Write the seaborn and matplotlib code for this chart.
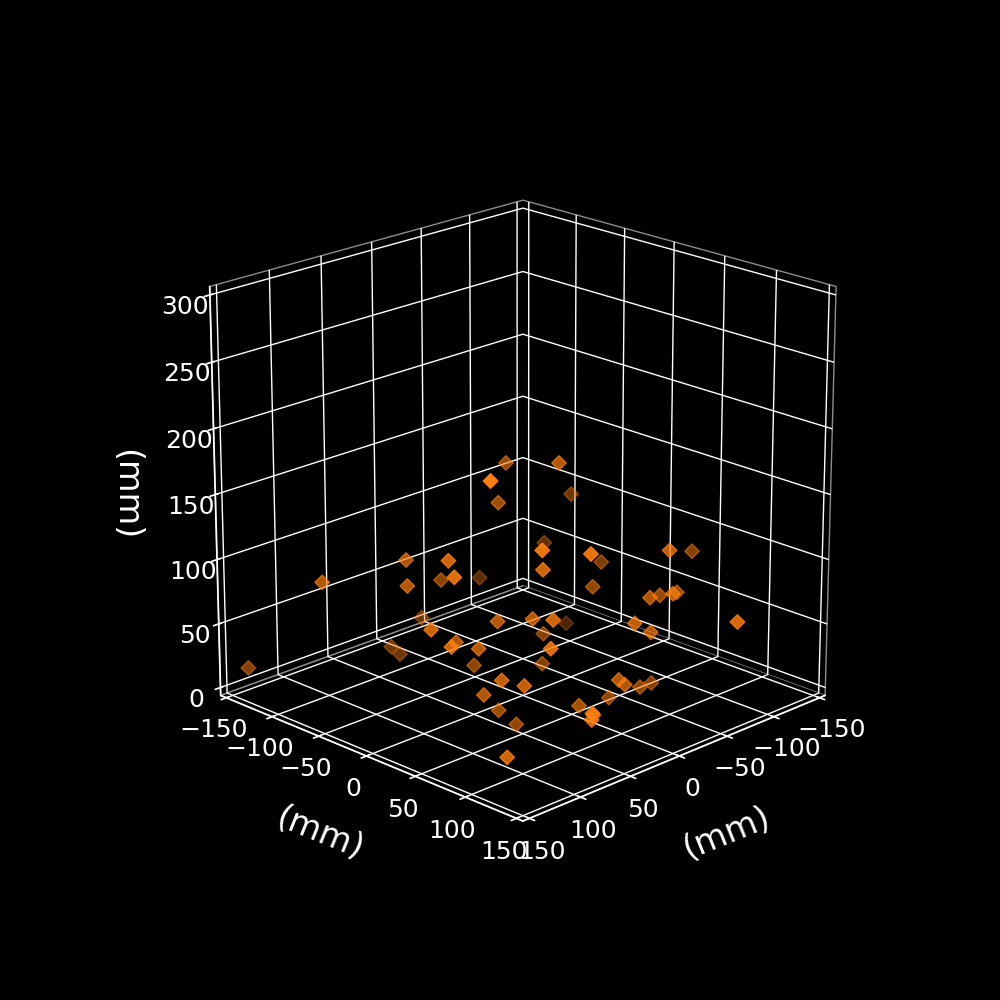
#!/usr/bin/env python3

import seaborn as sns
import matplotlib
matplotlib.use('Agg')
import matplotlib.pyplot as plt


# Point positions in mm
x_mm = [100.7, 4.1, 76.2, 88.1, 101.9, 25.3, -45.1, 83.9, 126.9, 10.6,
        105.3, 46.8, 34.9, 30.4, 67.8, 103.5, 64.8, 25.2, 133.7, -16.8,
        -9.7, -84.7, -79.3, 67.0, 43.1, -74.7, 41.0, -44.4, -39.6, -112.9,
        -38.8, -70.1, -41.6, -78.9, -38.4, -13.7, -30.6, 29.1, 44.4, -99.5,
        -27.6, 62.7, -18.5, 70.1, 58.8, 62.3, 37.9, 20.4, 92.8, 5.5,
        -35.7, -5.9, -9.0, -51.7, -75.1, 41.9, 42.2, 41.4]
y_mm = [69.3, -21.1, -42.2, 13.9, 34.1, -59.3, -90.9, -32.9, -75.9, -95.6,
        13.7, 21.2, -102.9, -98.4, 0.2, 32.5, 20.2, -25.2, -150.7, -34.2,
        26.7, -34.3, -56.7, 86.0, 109.9, 6.7, 61.0, 27.4, 107.6, 61.9,
        89.8, 70.1, 109.6, 78.9, 174.4, 98.7, 98.6, 38.9, 74.6, -53.5,
        -6.4, 90.3, 1.5, 48.9, 60.2, 22.7, 13.1, 13.6, 77.2, 62.5,
        52.7, 90.9, 94.0, 68.7, 58.1, 111.1, 110.8, 111.6]
z_mm = [203.7, 139.4, 108.9, 126.7, 123.5, 74.9, 48.8, 93.6, 96.4, 31.0,
        79.2, 71.1, 12.6, 6.8, 55.1, 71.0, 55.0, 17.5, 10.5, 161.3,
        178.4, 119.8, 76.8, 148.2, 145.5, 79.8, 119.9, 74.3, 125.4, 92.8,
        84.6, 72.3, 92.4, 74.7, 89.9, 74.5, 62.8, 73.0, 86.6, 7.3,
        32.7, 74.6, 13.9, 40.6, 36.3, 19.3, -2.8, -18.9, -3.0, 5.9,
        -3.0, 30.9, 27.3, 5.4, -1.4, 25.5, 20.4, 24.2]

horizontal_ticks = [-150, -100, -50, 0, 50, 100, 150]
height_ticks = [0, 50, 100, 150, 200, 250, 300]


sns.set_theme(style='dark', rc={'figure.facecolor': 'black', 'axes.facecolor': 'black', 'savefig.facecolor': 'black',
                                'text.color': 'white', 'axes.labelcolor': 'white', 'xtick.color': 'white',
                                'ytick.color': 'white', 'axes.edgecolor': 'white', 'grid.color': 'white'})
plt.rcParams['font.family'] = ['DejaVu Sans']

fig = plt.figure(figsize=(10, 10), dpi=100)
ax = fig.add_subplot(projection='3d')

ax.scatter(x_mm, y_mm, z_mm, marker='D', s=55, color=sns.color_palette('tab10')[1])

# limits carry the small margin the reference shows around the ticks
ax.set_xlim(-156.25, 156.25)
ax.set_ylim(-156.25, 156.25)
ax.set_zlim(-6.25, 306.25)
ax.set_xticks(horizontal_ticks)
ax.set_yticks(horizontal_ticks)
ax.set_zticks(height_ticks)
ax.set_box_aspect((1, 1, 1), zoom=0.95)
ax.view_init(elev=20, azim=45)

for axis in (ax.xaxis, ax.yaxis, ax.zaxis):
    axis.set_pane_color((0, 0, 0, 1))
    axis.pane.set_edgecolor('0.55')
    axis.set_tick_params(labelsize=18)
    axis.set_rotate_label(False)

ax.set_xlabel('(mm)', fontsize=24, labelpad=21, rotation=22)
ax.set_ylabel('(mm)', fontsize=24, labelpad=21, rotation=-22)
ax.set_zlabel('(mm)', fontsize=24, labelpad=21, rotation=-90)
ax.grid(True)

fig.savefig('out.png', dpi=100)
